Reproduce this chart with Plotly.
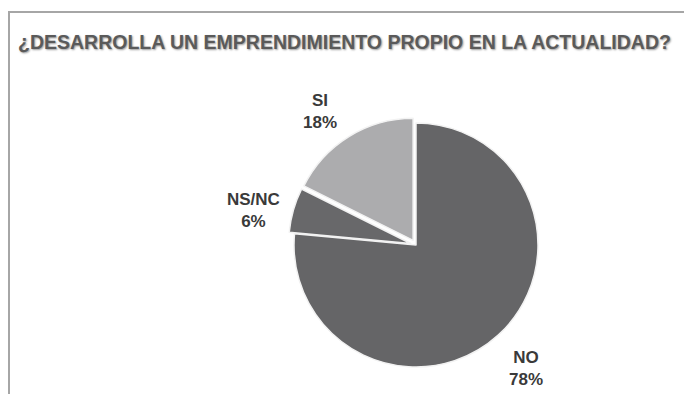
import math
import plotly.graph_objects as go

# Survey answers and their shares (%)
labels = ["NO", "NS/NC", "SI"]
values = [78, 6, 18]
colors = ["#656567", "#68686a", "#acacae"]
pulls = [0.0, 0.045, 0.045]

title_text = "¿DESARROLLA UN EMPRENDIMIENTO PROPIO EN LA ACTUALIDAD?"

W, H = 684, 394

# pie placement (pixels) -> domain in paper units
cx, cy, r = 416, 245, 122
half = r * (1 + max(pulls))
dom_x = [(cx - half) / W, (cx + half) / W]
dom_y = [(H - cy - half) / H, (H - cy + half) / H]

# small pixel nudges for the outside labels (dx right, dy down)
label_nudge = {"NO": (-3, 0), "NS/NC": (-2, 11), "SI": (-8, 9)}

fig = go.Figure(
    go.Pie(
        labels=labels,
        values=values,
        textinfo="none",
        sort=False,
        direction="clockwise",
        rotation=0,
        pull=pulls,
        marker=dict(colors=colors, line=dict(color="#f2f2f2", width=1.5)),
        domain=dict(x=dom_x, y=dom_y),
        showlegend=False,
        hoverinfo="label+percent",
    )
)

# category labels placed outside each slice, along its mid-angle
total = sum(values)
start = 0.0
label_dist = 1.37 * r
for lab, val in zip(labels, values):
    frac = val / total
    mid = (start + frac / 2) * 2 * math.pi
    start += frac
    dx, dy = label_nudge[lab]
    lx = cx + label_dist * math.sin(mid) + dx
    ly = cy - label_dist * math.cos(mid) + dy
    fig.add_annotation(
        x=lx / W, y=1 - ly / H, xref="paper", yref="paper",
        text=f"{lab}<br>{val}%", showarrow=False,
        xanchor="center", yanchor="middle", align="center",
        font=dict(family="Liberation Sans", size=17, color="#3a3a3a", weight="bold"),
    )

fig.update_layout(
    width=W,
    height=H,
    margin=dict(l=0, r=0, t=0, b=0),
    paper_bgcolor="white",
    plot_bgcolor="white",
    title=dict(
        text=title_text,
        x=18 / W,
        xanchor="left",
        xref="paper",
        y=1 - 42 / H,
        yanchor="middle",
        yref="paper",
        font=dict(family="Liberation Sans", size=19.5, color="#5a5a5a", weight="bold",
                  shadow="1px 1px 2px #9a9a9a"),
    ),
    shapes=[
        dict(
            type="rect", xref="paper", yref="paper",
            x0=9 / W, x1=1.05, y0=-0.05, y1=1 - 12 / H,
            line=dict(color="#a6a6a6", width=2),
            fillcolor="rgba(0,0,0,0)",
        )
    ],
)

fig.write_html("out.html")
